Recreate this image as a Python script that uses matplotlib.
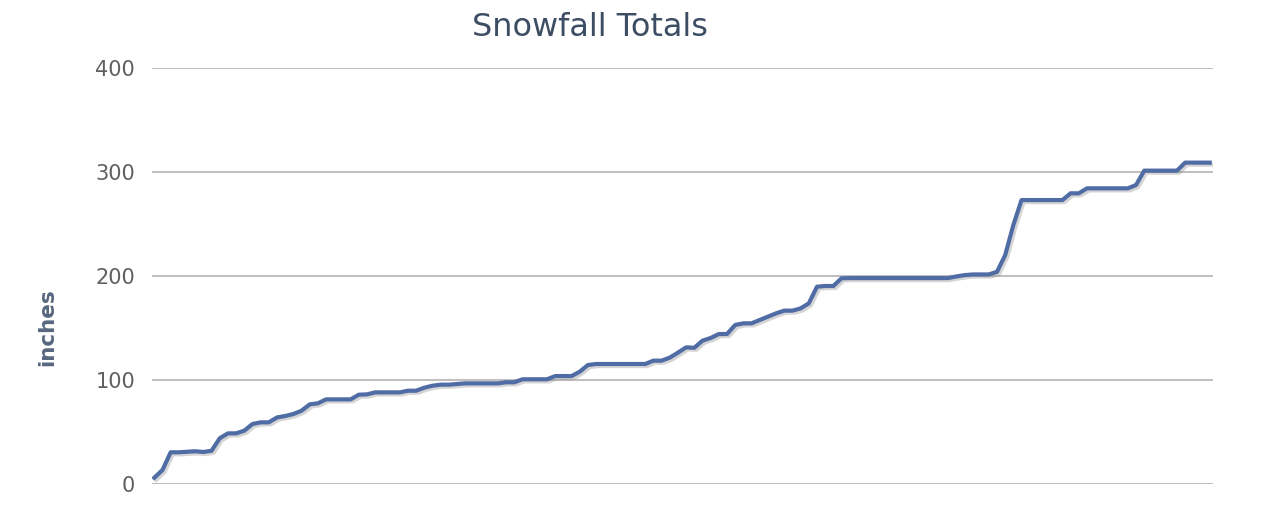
import matplotlib.pyplot as plt
import matplotlib.patheffects as pe
import numpy as np

# cumulative snowfall (inches), one value per report
totals = [6, 13.5, 30.5, 30.5, 31, 31.5, 30.8, 32, 44, 48.7,
          48.7, 51.3, 57.7, 59.3, 59.3, 64, 65.4, 67.3, 70.5, 76.6,
          77.6, 81.4, 81.4, 81.4, 81.4, 85.9, 86.2, 88.1, 88.1, 88.1,
          88.1, 89.7, 89.7, 92.6, 94.5, 95.5, 95.5, 96.2, 96.8, 96.8,
          96.8, 96.8, 96.8, 97.8, 97.8, 100.7, 100.7, 100.7, 100.7, 103.8,
          103.8, 103.8, 108, 114.4, 115.4, 115.4, 115.4, 115.4, 115.4, 115.4,
          115.4, 118.6, 118.6, 121.5, 126.3, 131.4, 131, 137.8, 140.4, 144.2,
          144.2, 152.9, 154.5, 154.5, 157.7, 160.9, 164.1, 166.7, 166.7, 168.9,
          173.7, 189.7, 190.4, 190.4, 197.8, 198, 198, 198, 198, 198,
          198, 198, 198, 198, 198, 198, 198, 198, 199.5, 200.8,
          201.5, 201.5, 201.5, 204, 220, 249, 273, 273, 273, 273,
          273, 273, 279.5, 279.5, 284.3, 284.3, 284.3, 284.3, 284.3, 284.3,
          287.5, 301.3, 301.3, 301.3, 301.3, 301.3, 309, 309, 309, 309]
yticks = [0, 100, 200, 300, 400]

fig = plt.figure(figsize=(12.76, 5.32), dpi=100)
ax = fig.add_axes([0.119, 0.0902, 0.8316, 0.782])

days = np.arange(len(totals))
ax.plot(days, totals, color='#4f6ca4', linewidth=3.0, solid_joinstyle='round',
        path_effects=[pe.SimpleLineShadow(offset=(1.5, -1.5), shadow_color='#888888', alpha=0.35),
                      pe.Normal()], zorder=3)

ax.set_ylim(0, 400)
ax.set_xlim(-0.3, len(totals) - 1 + 0.4)
ax.set_yticks(yticks)
ax.set_xticks([])
ax.grid(axis='y', color='#c0c0c0', linewidth=1.5)
ax.set_axisbelow(True)
for s in ax.spines.values():
    s.set_visible(False)
ax.tick_params(axis='y', length=0, pad=12, labelsize=15, labelcolor='#606060')

ax.set_ylabel('inches', fontsize=15.5, fontweight='bold', color='#56677f')
ax.yaxis.set_label_coords(-0.0895, 0.377)
fig.text(0.4625, 0.948, 'Snowfall Totals', ha='center', va='center', fontsize=23, color='#3d4d63')

plt.savefig('out.png', dpi=100)
